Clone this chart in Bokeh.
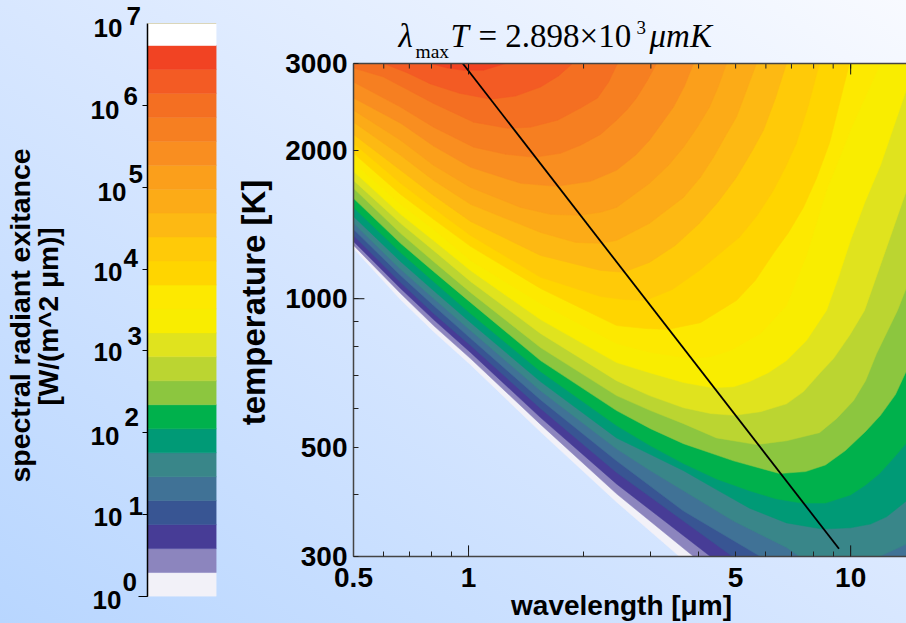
from bokeh.plotting import figure
from bokeh.models import Label, FixedTicker, BasicTickFormatter, Span, LogAxis
from bokeh.embed import file_html
from bokeh.resources import INLINE

# ---- data -----------------------------------------------------------------
X_MIN, X_MAX = 0.5, 14.0
T_MIN, T_MAX = 300, 3000

band_colors = ["#f2f1f8", "#8c85be", "#473c96", "#385593", "#407296", "#398689",
               "#009a76", "#00b14c", "#8cc63f", "#bbd531", "#e0e31e", "#f9ed00",
               "#fde900", "#ffd500", "#ffca08", "#fdb913", "#fcab17", "#fb9f1b",
               "#f98e20", "#f67f21", "#f46f22", "#f35b24", "#f14323", "#ffffff"]
bar_edges = [1, 1.962, 3.85, 7.56, 14.83, 29.1, 57.1, 112, 220, 431, 846, 1660, 3258,
             6392, 12540, 24600, 48270, 94700, 185800, 364600, 715500, 1404000,
             2754000, 5404000, 10000000]
wien_um = [0.966, 9.32]
wien_K = [3000, 311]

c00_um = [0.5, 0.664, 0.81, 1.012, 1.543, 2.44, 3.566]
c00_K = [1265, 996, 858, 735, 537, 387, 300]
c01_um = [0.5, 0.664, 0.81, 1.012, 1.543, 2.44, 3.88]
c01_K = [1283, 1025, 882, 756, 556, 402, 300]
c02_um = [0.5, 0.664, 0.81, 1.012, 1.543, 2.44, 4.297]
c02_K = [1307, 1049, 907, 778, 574, 421, 300]
c03_um = [0.5, 0.664, 0.81, 1.012, 1.543, 2.44, 4.907]
c03_K = [1344, 1079, 933, 804, 599, 444, 300]
c04_um = [0.5, 0.664, 0.81, 1.012, 1.543, 2.44, 3.653, 5.808]
c04_K = [1383, 1115, 969, 831, 624, 469, 371, 300]
c05_um = [0.5, 0.664, 0.81, 1.012, 1.543, 2.44, 2.994, 3.653, 4.937, 6.794, 7.346, 11.9, 14.0]
c05_K = [1422, 1147, 1001, 862, 651, 496, 448, 408, 354, 313, 300, 300, 318]
c06_um = [0.5, 0.664, 0.81, 1.012, 1.543, 2.44, 2.994, 3.653, 4.456, 5.436, 6.794, 8.438, 9.988, 11.27, 12.41, 14.0]
c06_K = [1469, 1190, 1039, 895, 679, 522, 483, 448, 410, 376, 351, 341, 343, 349, 361, 389]
c07_um = [0.5, 0.664, 0.81, 1.012, 1.543, 2.44, 2.994, 3.653, 4.456, 5.436, 6.36, 7.435, 8.59, 9.988, 10.94, 11.9, 13.1, 14.0]
c07_K = [1532, 1241, 1084, 933, 712, 553, 503, 463, 431, 408, 393, 385, 385, 400, 419, 442, 480, 510]
c08_um = [0.5, 0.664, 0.81, 1.012, 1.543, 2.44, 2.994, 3.653, 4.937, 6.513, 7.62, 8.59, 9.69, 10.94, 11.97, 13.1, 14.0]
c08_K = [1598, 1295, 1136, 983, 749, 593, 545, 508, 469, 442, 446, 460, 492, 538, 580, 639, 715]
c09_um = [0.5, 0.664, 0.81, 1.012, 1.543, 2.44, 2.994, 3.653, 4.456, 5.67, 6.794, 8.287, 9.181, 10.17, 10.94, 11.69, 13.26, 14.0]
c09_K = [1675, 1357, 1190, 1030, 796, 636, 593, 558, 522, 506, 515, 535, 571, 621, 682, 774, 947, 1054]
c10_um = [0.5, 0.664, 0.81, 1.012, 1.543, 2.44, 2.976, 3.653, 4.297, 4.966, 5.808, 6.794, 7.525, 8.287, 9.016, 9.929, 10.87, 12.34, 14.0]
c10_K = [1738, 1422, 1253, 1084, 850, 682, 636, 601, 585, 580, 590, 612, 648, 705, 756, 842, 947, 1253, 1659]
c11_um = [0.5, 0.664, 0.81, 1.012, 1.543, 2.44, 2.976, 3.653, 4.349, 4.937, 5.436, 6.09, 6.794, 7.663, 8.645, 9.29, 9.988, 10.94, 11.97, 14.0]
c11_K = [1813, 1483, 1313, 1141, 907, 742, 708, 676, 660, 663, 679, 708, 749, 823, 947, 1105, 1313, 1583, 1865, 2660]
c12_um = [0.5, 0.664, 0.81, 1.012, 1.543, 2.44, 2.994, 3.81, 4.297, 4.848, 5.808, 6.794, 7.663, 8.645, 10.11, 11.97]
c12_K = [1891, 1554, 1383, 1196, 978, 811, 778, 756, 763, 785, 850, 969, 1224, 1659, 2249, 3000]
c13_um = [0.5, 0.664, 0.81, 1.012, 1.543, 2.44, 2.905, 3.317, 4.046, 5.027, 5.63, 6.282, 6.88, 7.525, 8.14, 8.802, 9.929]
c13_K = [1972, 1628, 1449, 1277, 1049, 882, 870, 866, 894, 992, 1089, 1236, 1363, 1532, 1755, 2068, 3000]
c14_um = [0.5, 0.664, 0.81, 1.012, 1.543, 2.215, 2.545, 2.905, 3.418, 4.022, 5.118, 5.70, 6.282, 6.75, 7.215, 7.76, 8.287]
c14_K = [2068, 1714, 1525, 1344, 1105, 1010, 996, 992, 1044, 1141, 1332, 1476, 1659, 1847, 2068, 2470, 3000]
c15_um = [0.5, 0.664, 0.81, 1.012, 1.543, 2.215, 2.545, 2.976, 3.48, 4.022, 4.51, 5.027, 5.50, 5.914, 6.36, 6.794]
c15_K = [2154, 1822, 1620, 1435, 1224, 1141, 1131, 1185, 1283, 1422, 1575, 1763, 1982, 2196, 2553, 3000]
c16_um = [0.5, 0.664, 0.81, 1.012, 1.543, 1.906, 2.215, 2.44, 2.976, 3.653, 4.046, 4.376, 4.70, 5.027, 5.34, 5.67]
c16_K = [2281, 1954, 1738, 1554, 1363, 1301, 1295, 1313, 1422, 1605, 1763, 1936, 2137, 2337, 2648, 3000]
c17_um = [0.5, 0.664, 0.81, 1.012, 1.368, 1.639, 1.94, 2.215, 2.44, 2.976, 3.337, 3.653, 3.97, 4.272, 4.51, 4.732]
c17_K = [2412, 2096, 1865, 1682, 1532, 1483, 1476, 1497, 1532, 1714, 1865, 2030, 2228, 2447, 2700, 3000]
c18_um = [0.5, 0.664, 0.81, 1.012, 1.368, 1.70, 2.086, 2.44, 2.735, 2.976, 3.22, 3.439, 3.675, 3.88]
c18_K = [2553, 2270, 2040, 1848, 1714, 1690, 1730, 1822, 1954, 2096, 2281, 2447, 2700, 3000]
c19_um = [0.5, 0.664, 0.81, 1.031, 1.25, 1.488, 1.741, 1.964, 2.215, 2.44, 2.607, 2.752, 2.94, 3.105]
c19_K = [2751, 2447, 2228, 2030, 1963, 1936, 1972, 2048, 2154, 2302, 2424, 2553, 2775, 3000]
c20_um = [0.5, 0.599, 0.81, 1.031, 1.265, 1.453, 1.71, 1.964, 2.176, 2.326, 2.454]
c20_K = [2936, 2817, 2490, 2281, 2217, 2228, 2302, 2436, 2553, 2751, 3000]
c21_um = [0.599, 0.693, 0.795, 0.947, 1.142, 1.327, 1.543, 1.72, 1.871]
c21_K = [3000, 2870, 2727, 2610, 2540, 2576, 2687, 2831, 3000]
c22_um = [0.795, 0.881, 0.971, 1.094, 1.25]
c22_K = [3000, 2936, 2907, 2907, 3000]

contours = [(c00_um, c00_K), (c01_um, c01_K), (c02_um, c02_K), (c03_um, c03_K), (c04_um, c04_K),
            (c05_um, c05_K), (c06_um, c06_K), (c07_um, c07_K), (c08_um, c08_K), (c09_um, c09_K),
            (c10_um, c10_K), (c11_um, c11_K), (c12_um, c12_K), (c13_um, c13_K), (c14_um, c14_K),
            (c15_um, c15_K), (c16_um, c16_K), (c17_um, c17_K), (c18_um, c18_K), (c19_um, c19_K),
            (c20_um, c20_K), (c21_um, c21_K), (c22_um, c22_K)]

x_major = [0.5, 1, 5, 10]
x_minor = [0.6, 0.7, 0.8, 0.9, 2, 3, 4, 6, 7, 8, 9]
y_major = [300, 500, 1000, 2000, 3000]
y_minor = [400, 600, 700, 800, 900]
bar_ticks = [1, 10, 100, 1000, 10000, 100000, 1000000]
exponents = ["0", "1", "2", "3", "4", "5", "6", "7"]
# page pixel positions of the "10" and of the exponent, one pair per label
base_xy = [(92, 611), (93, 528), (90, 447), (93, 363), (93, 283), (97, 203), (90, 121), (93, 39)]
exp_xy = [(122, 593), (128, 517), (124, 428), (127, 347), (123, 269), (128, 185), (123, 107), (126, 27)]

FONT = "Liberation Sans"
SERIF = "Liberation Serif"
INK = "#000000"
W, H = 906, 623


def place(left):
    return {"position": "absolute", "left": f"{left}px", "top": "0px"}


# ---- colour bar -----------------------------------------------------------
BL, BT, BW, BH, BAR_W = 147, 23, 69, 573, 230
bar = figure(width=BAR_W, height=H, frame_width=BW, frame_height=BH, min_border_left=BL,
             min_border_right=BAR_W - BL - BW, min_border_top=BT, min_border_bottom=H - BT - BH,
             x_range=(0, 1), y_range=(1, 1e7), y_axis_type="log", toolbar_location=None,
             output_backend="svg", background_fill_alpha=0, border_fill_alpha=0, outline_line_color=None,
             styles=place(0))
bar.quad(left=0, right=1, bottom=bar_edges[:-1], top=bar_edges[1:], fill_color=band_colors,
         line_color=band_colors, line_width=0.5)
bar.grid.visible = False
bar.xaxis.visible = False
ya = bar.yaxis[0]
ya.ticker = FixedTicker(ticks=bar_ticks, minor_ticks=[])
ya.major_label_text_color = None
ya.major_label_text_font_size = "1px"
ya.major_tick_in = 0
ya.major_tick_out = 5
ya.major_tick_line_color = INK
ya.axis_line_color = INK
ya.axis_line_width = 1.5
bar.add_layout(Span(location=1e7, dimension="width", line_color="#c9b976", line_width=1))

# ---- main plot ------------------------------------------------------------
ML, MT, MW, MH, M_OFF = 353, 63, 553, 493, 270
p = figure(width=W - M_OFF, height=H, frame_width=MW, frame_height=MH, min_border_left=ML - M_OFF,
           min_border_right=0, min_border_top=MT, min_border_bottom=H - MT - MH,
           x_range=(X_MIN, X_MAX), y_range=(T_MIN, T_MAX), x_axis_type="log", y_axis_type="log",
           toolbar_location=None, output_backend="svg", background_fill_alpha=0, border_fill_alpha=0,
           outline_line_color=None, styles=place(M_OFF))
p.grid.visible = False

for (um, kelvin), col in zip(contours, band_colors):
    xs, ys = list(um), list(kelvin)
    if ys[-1] == T_MIN:
        xs += [X_MAX, X_MAX]
        ys += [T_MIN, T_MAX]
    elif ys[-1] < T_MAX:
        xs += [X_MAX]
        ys += [T_MAX]
    if xs[0] == X_MIN:
        xs += [X_MIN]
        ys += [T_MAX]
    p.patch(xs, ys, fill_color=col, line_color=col, line_width=0.5)

p.line(wien_um, wien_K, line_color="#000000", line_width=1.8)

# tick marks along the top edge, and the longer ones at the decades
top_ticks = x_major + x_minor
p.segment(x0=top_ticks, x1=top_ticks, y0=[T_MAX] * len(top_ticks), y1=[2930] * len(top_ticks),
          line_color="#222222", line_width=1)
p.segment(x0=[1, 10, 1, 10], x1=[1, 10, 1, 10], y0=[300, 300, 3000, 3000], y1=[316, 316, 2850, 2850],
          line_color="#111111", line_width=1)
p.segment(x0=[0.5], x1=[0.534], y0=[1000], y1=[1000], line_color="#111111", line_width=1)

top = LogAxis(ticker=FixedTicker(ticks=[], minor_ticks=[]))
top.major_label_text_color = None
top.major_label_text_font_size = "1px"
top.major_tick_line_color = None
top.minor_tick_line_color = None
top.axis_line_color = "#444444"
top.axis_line_width = 1.5
p.add_layout(top, "above")

for ax, maj, mnr in ((p.below[0], x_major, x_minor), (p.left[0], y_major, y_minor)):
    ax.ticker = FixedTicker(ticks=maj, minor_ticks=mnr)
    ax.major_tick_in = 5
    ax.major_tick_out = 0
    ax.minor_tick_in = 5
    ax.minor_tick_out = 0
    ax.major_tick_line_color = "#222222"
    ax.minor_tick_line_color = "#222222"
    ax.axis_line_color = "#444444"
    ax.axis_line_width = 1.5
    ax.formatter = BasicTickFormatter(use_scientific=False)
    ax.major_label_text_font = FONT
    ax.major_label_text_font_style = "bold"
    ax.major_label_text_font_size = "28px"
    ax.major_label_text_color = INK
p.below[0].major_label_standoff = 11
p.left[0].major_label_standoff = 6

# ---- all free-standing text sits on a transparent page-sized layer -----------
notes = figure(width=W, height=H, frame_width=W, frame_height=H, min_border=0, x_range=(0, W), y_range=(H, 0),
               toolbar_location=None, output_backend="svg", background_fill_alpha=0, border_fill_alpha=0,
               outline_line_color=None, styles=place(0))
notes.grid.visible = False
notes.xaxis.visible = False
notes.yaxis.visible = False
notes.segment(x0=[138], x1=[147], y0=[596], y1=[596], line_color=INK, line_width=1.2)


def put(px, py, text, size, font=FONT, style="bold", angle=0.0, align="left"):
    # a Label's alphabetic baseline lands about 0.43 em below its anchor
    shift = 0.43 * size
    if angle:
        px -= shift
    else:
        py -= shift
    notes.add_layout(Label(x=px, y=py, text=text, text_font=font, text_font_size=f"{size}px",
                           text_font_style=style, text_align=align, text_baseline="alphabetic",
                           angle=angle, text_color=INK))


for (bx, by), (ex, ey), e in zip(base_xy, exp_xy, exponents):
    put(bx, by, "10", 26)
    put(ex, ey, e, 26)
put(32, 315, "spectral radiant exitance", 28.5, angle=1.5708, align="center")
put(60, 316, "[W/(m^2 \u03bcm)]", 28, angle=1.5708, align="center")
put(267, 302, "temperature [K]", 33, angle=1.5708, align="center")
put(621, 617, "wavelength [\u03bcm]", 28, align="center")
put(398, 50, "\u03bb", 33, SERIF, "italic")
put(415, 59, "max", 19.5, SERIF, "normal")
put(450, 50, "T", 33, SERIF, "italic")
put(478, 50, "= 2.898\u00d710", 33, SERIF, "normal")
put(636, 35, "3", 19, SERIF, "normal")
put(649, 50, "\u03bcmK", 33, SERIF, "italic")

html = file_html([bar, p, notes], INLINE)
style = ("<style>html,body{margin:0;padding:0;overflow:hidden;width:906px;height:623px;"
         "background:linear-gradient(to top right,#b8d6ff 0%,#d8e7ff 50%,#f8faff 100%);}</style>")
html = html.replace("</head>", style + "</head>", 1)
open("out.html", "w").write(html)
